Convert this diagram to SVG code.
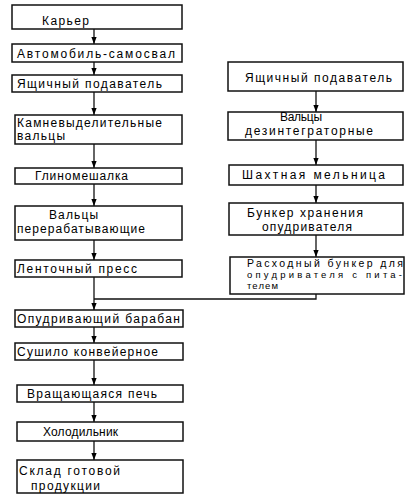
<svg xmlns="http://www.w3.org/2000/svg" width="414" height="504" viewBox="0 0 414 504">
<style>
.box{fill:#fff;stroke:#111;stroke-width:1.5}
.t{font-family:"Liberation Sans","DejaVu Sans",sans-serif;font-size:12px;fill:#000}
.s{font-size:9.5px}
.m{font-size:10.5px}
.c{fill:none;stroke:#111;stroke-width:1.3}
</style>
<defs>
<marker id="ah" markerWidth="7" markerHeight="6" refX="7" refY="3" orient="auto" markerUnits="userSpaceOnUse">
<path d="M0,0.4 L7,3 L0,5.6 Z" fill="#000"/>
</marker>
</defs>
<rect width="414" height="504" fill="#fff"/>
<g id="connectors">
<line class="c" x1="94" y1="29" x2="94" y2="44" marker-end="url(#ah)"/>
<line class="c" x1="94" y1="62" x2="94" y2="75" marker-end="url(#ah)"/>
<line class="c" x1="94" y1="92" x2="94" y2="115" marker-end="url(#ah)"/>
<line class="c" x1="94" y1="144" x2="94" y2="168" marker-end="url(#ah)"/>
<line class="c" x1="94" y1="184" x2="94" y2="206" marker-end="url(#ah)"/>
<line class="c" x1="94" y1="240" x2="94" y2="260" marker-end="url(#ah)"/>
<line class="c" x1="94" y1="277" x2="94" y2="310" marker-end="url(#ah)"/>
<polyline class="c" points="316,294 316,299 94,299"/>
<line class="c" x1="94" y1="327" x2="94" y2="343" marker-end="url(#ah)"/>
<line class="c" x1="94" y1="360" x2="94" y2="385" marker-end="url(#ah)"/>
<line class="c" x1="94" y1="402" x2="94" y2="422" marker-end="url(#ah)"/>
<line class="c" x1="94" y1="441" x2="94" y2="460" marker-end="url(#ah)"/>
<line class="c" x1="316" y1="91" x2="316" y2="112" marker-end="url(#ah)"/>
<line class="c" x1="316" y1="140" x2="316" y2="165" marker-end="url(#ah)"/>
<line class="c" x1="316" y1="185" x2="316" y2="203" marker-end="url(#ah)"/>
<line class="c" x1="316" y1="235" x2="316" y2="257" marker-end="url(#ah)"/>
</g>
<g id="n1"><rect class="box" x="12" y="5" width="170" height="24"/><text class="t" x="42" y="25" textLength="47" lengthAdjust="spacing">Карьер</text></g>
<g id="n2"><rect class="box" x="12" y="44" width="170" height="18"/><text class="t" x="17" y="58" textLength="158" lengthAdjust="spacing">Автомобиль-самосвал</text></g>
<g id="n3"><rect class="box" x="12" y="75" width="170" height="17"/><text class="t" x="17" y="88" textLength="145" lengthAdjust="spacing">Ящичный подаватель</text></g>
<g id="n4"><rect class="box" x="15" y="115" width="167" height="29"/><text class="t" x="17" y="127" textLength="145" lengthAdjust="spacing">Камневыделительные</text><text class="t" x="17" y="140" textLength="48" lengthAdjust="spacing">вальцы</text></g>
<g id="n5"><rect class="box" x="15" y="168" width="167" height="16"/><text class="t" x="35" y="180" textLength="93" lengthAdjust="spacing">Глиномешалка</text></g>
<g id="n6"><rect class="box" x="15" y="206" width="167" height="34"/><text class="t" x="49" y="219" textLength="49" lengthAdjust="spacing">Вальцы</text><text class="t" x="17" y="233" textLength="128" lengthAdjust="spacing">перерабатывающие</text></g>
<g id="n7"><rect class="box" x="15" y="260" width="167" height="17"/><text class="t" x="17" y="273" textLength="120" lengthAdjust="spacing">Ленточный пресс</text></g>
<g id="n8"><rect class="box" x="15" y="310" width="168" height="17"/><text class="t" x="17" y="323" textLength="163" lengthAdjust="spacing">Опудривающий барабан</text></g>
<g id="n9"><rect class="box" x="15" y="343" width="168" height="17"/><text class="t" x="17" y="356" textLength="141" lengthAdjust="spacing">Сушило конвейерное</text></g>
<g id="n10"><rect class="box" x="17" y="385" width="166" height="17"/><text class="t" x="27" y="398" textLength="130" lengthAdjust="spacing">Вращающаяся печь</text></g>
<g id="n11"><rect class="box" x="17" y="422" width="166" height="19"/><text class="t" x="43" y="436" textLength="75" lengthAdjust="spacing">Холодильник</text></g>
<g id="n12"><rect class="box" x="17" y="460" width="166" height="33"/><text class="t" x="19" y="475" textLength="101" lengthAdjust="spacing">Склад готовой</text><text class="t" x="31" y="490" textLength="69" lengthAdjust="spacing">продукции</text></g>
<g id="r1"><rect class="box" x="228" y="62" width="175" height="29"/><text class="t" x="245" y="82" textLength="147" lengthAdjust="spacing">Ящичный подаватель</text></g>
<g id="r2"><rect class="box" x="228" y="112" width="175" height="28"/><text class="t" x="280" y="121" textLength="42" lengthAdjust="spacing">Вальцы</text><text class="t" x="245" y="135" textLength="128" lengthAdjust="spacing">дезинтеграторные</text></g>
<g id="r3"><rect class="box" x="229" y="165" width="174" height="20"/><text class="t" x="242" y="179" textLength="143" lengthAdjust="spacing">Шахтная мельница</text></g>
<g id="r4"><rect class="box" x="229" y="203" width="174" height="32"/><text class="t" x="247" y="217" textLength="116" lengthAdjust="spacing">Бункер хранения</text><text class="t" x="262" y="231" textLength="90" lengthAdjust="spacing">опудривателя</text></g>
<g id="r5"><rect class="box" x="230" y="257" width="174" height="37"/><text class="t m" x="247" y="267" textLength="156" lengthAdjust="spacing">Расходный бункер для</text><text class="t s" x="247" y="278" textLength="155" lengthAdjust="spacing">опудривателя с пита-</text><text class="t s" x="247" y="289" textLength="31" lengthAdjust="spacing">телем</text></g>
</svg>
